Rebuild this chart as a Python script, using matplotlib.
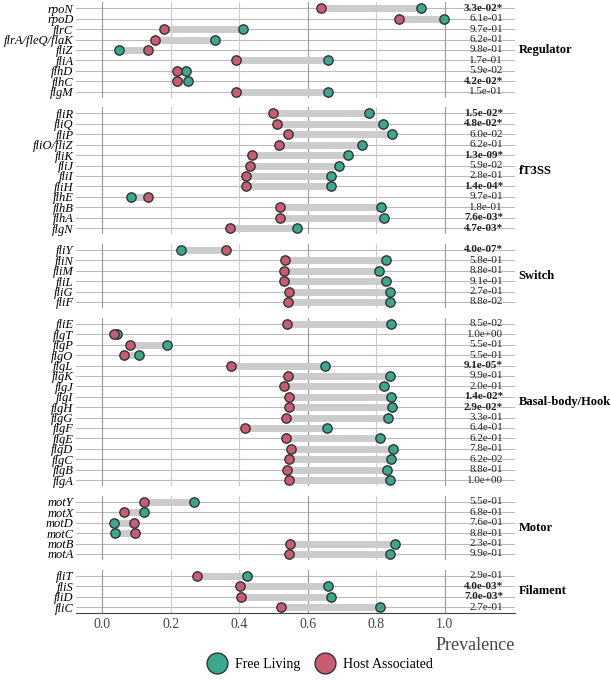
import matplotlib
matplotlib.use("Agg")
import matplotlib.pyplot as plt
from matplotlib.lines import Line2D

plt.rcParams['font.family'] = ['Liberation Serif', 'DejaVu Serif']

free_col = '#3aa88f'
host_col = '#c95c72'

groups = ['Regulator', 'fT3SS', 'Switch', 'Basal-body/Hook', 'Motor', 'Filament']

genes = [
    ['rpoN', 'rpoD', 'flrC', 'flrA/fleQ/flaK', 'fliZ', 'fliA', 'flhD', 'flhC', 'flgM'],
    ['fliR', 'fliQ', 'fliP', 'fliO/fliZ', 'fliK', 'fliJ', 'fliI', 'fliH', 'flhE', 'flhB', 'flhA', 'flgN'],
    ['fliY', 'fliN', 'fliM', 'fliL', 'fliG', 'fliF'],
    ['fliE', 'flgT', 'flgP', 'flgO', 'flgL', 'flgK', 'flgJ', 'flgI', 'flgH', 'flgG', 'flgF', 'flgE',
     'flgD', 'flgC', 'flgB', 'flgA'],
    ['motY', 'motX', 'motD', 'motC', 'motB', 'motA'],
    ['fliT', 'fliS', 'fliD', 'fliC'],
]

free_living = [
    [0.93, 0.998, 0.41, 0.33, 0.05, 0.66, 0.245, 0.25, 0.66],
    [0.78, 0.82, 0.845, 0.757, 0.718, 0.69, 0.667, 0.667, 0.085, 0.813, 0.824, 0.568],
    [0.229, 0.828, 0.808, 0.829, 0.84, 0.841],
    [0.844, 0.044, 0.19, 0.109, 0.65, 0.839, 0.822, 0.843, 0.846, 0.834, 0.657, 0.812,
     0.85, 0.843, 0.831, 0.839],
    [0.267, 0.121, 0.036, 0.038, 0.854, 0.839],
    [0.422, 0.659, 0.669, 0.81],
]

host_associated = [
    [0.64, 0.865, 0.18, 0.155, 0.135, 0.39, 0.22, 0.22, 0.39],
    [0.50, 0.51, 0.543, 0.515, 0.437, 0.433, 0.42, 0.42, 0.133, 0.52, 0.52, 0.372],
    [0.363, 0.535, 0.531, 0.532, 0.545, 0.543],
    [0.539, 0.034, 0.081, 0.064, 0.376, 0.542, 0.532, 0.544, 0.544, 0.537, 0.416, 0.537,
     0.551, 0.544, 0.539, 0.546],
    [0.122, 0.064, 0.094, 0.095, 0.547, 0.544],
    [0.276, 0.403, 0.404, 0.521],
]

pvalues = [
    ['3.3e-02*', '6.1e-01', '9.7e-01', '6.2e-01', '9.8e-01', '1.7e-01', '5.9e-02', '4.2e-02*', '1.5e-01'],
    ['1.5e-02*', '4.8e-02*', '6.0e-02', '6.2e-01', '1.3e-09*', '5.9e-02', '2.8e-01', '1.4e-04*',
     '9.7e-01', '1.8e-01', '7.6e-03*', '4.7e-03*'],
    ['4.0e-07*', '5.8e-01', '8.8e-01', '9.1e-01', '2.7e-01', '8.8e-02'],
    ['8.5e-02', '1.0e+00', '5.5e-01', '5.5e-01', '9.1e-05*', '9.9e-01', '2.0e-01', '1.4e-02*',
     '2.9e-02*', '3.3e-01', '6.4e-01', '6.2e-01', '7.8e-01', '6.2e-02', '8.8e-01', '1.0e+00'],
    ['5.5e-01', '6.8e-01', '7.6e-01', '8.8e-01', '2.3e-01', '9.9e-01'],
    ['2.9e-01', '4.0e-03*', '7.0e-03*', '2.7e-01'],
]

fig, axes = plt.subplots(len(groups), 1, figsize=(6.11, 6.8), dpi=100,
                         gridspec_kw={'height_ratios': [len(g) + 0.2 for g in genes], 'hspace': 0.1})
fig.subplots_adjust(left=0.125, right=0.843, top=0.997, bottom=0.098)

for i, ax in enumerate(axes):
    n = len(genes[i])
    y = list(range(n))[::-1]
    for k in range(n):
        ax.axhline(y[k], color='#bbbbbb', lw=0.8, zorder=0)
    for xv in [0, 0.2, 0.4, 0.6, 0.8, 1.0]:
        ax.axvline(xv, color='#999999' if xv in (0, 0.6, 1.0) else '#cccccc', lw=0.8, zorder=0)
    for k in range(n):
        ax.plot([free_living[i][k], host_associated[i][k]], [y[k], y[k]], color='#cccccc',
                lw=5, solid_capstyle='butt', zorder=1)
        pv = pvalues[i][k]
        ax.text(1.17, y[k], pv, ha='right', va='center', fontsize=8,
                fontweight='bold' if pv.endswith('*') else 'normal', color='#222222')
    ax.scatter(free_living[i], y, s=45, color=free_col, edgecolor='#333333', lw=1, zorder=3)
    ax.scatter(host_associated[i], y, s=45, color=host_col, edgecolor='#333333', lw=1, zorder=3)
    ax.set_xlim(-0.075, 1.205)
    ax.set_ylim(-0.6, n - 0.4)
    ax.set_yticks(y)
    ax.set_yticklabels(genes[i], style='italic', fontsize=9)
    ax.tick_params(axis='y', length=0, pad=2)
    for s in ax.spines.values():
        s.set_visible(False)
    ax.text(1.215, (n - 1) / 2, groups[i], ha='left', va='center', fontsize=9,
            fontweight='bold', transform=ax.transData, clip_on=False)
    if i < len(groups) - 1:
        ax.set_xticks([])
    else:
        ax.set_xticks([0, 0.2, 0.4, 0.6, 0.8, 1.0])
        ax.set_xticklabels(['0.0', '0.2', '0.4', '0.6', '0.8', '1.0'], fontsize=10, color='#444444')
        ax.tick_params(axis='x', length=0)
        ax.spines['bottom'].set_visible(True)
        ax.spines['bottom'].set_color('#444444')
        ax.set_xlabel('Prevalence', fontsize=13, color='#444444', loc='right')

handles = [Line2D([], [], marker='o', ls='', markersize=15, markerfacecolor=free_col,
                  markeredgecolor='#333333', label='Free Living'),
           Line2D([], [], marker='o', ls='', markersize=15, markerfacecolor=host_col,
                  markeredgecolor='#333333', label='Host Associated')]
fig.legend(handles=handles, loc='lower center', ncol=2, frameon=False, fontsize=10,
           bbox_to_anchor=(0.52, -0.005), handletextpad=0.3, columnspacing=0.8)

fig.savefig('out.png', dpi=100)
